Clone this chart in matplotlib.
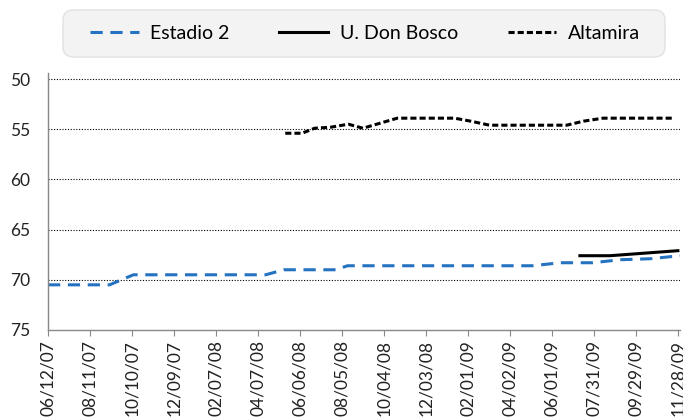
import pandas as pd
import matplotlib
matplotlib.use("Agg")
import matplotlib.pyplot as plt
from matplotlib.patches import FancyBboxPatch

plt.rcParams['font.family'] = ['Lato', 'DejaVu Sans']

# Estadio 2
estadio_dates = ['2007-06-12', '2007-09-08', '2007-10-12', '2008-04-18', '2008-05-14',
                 '2008-07-27', '2008-08-13', '2009-05-04', '2009-06-13', '2009-07-29',
                 '2009-09-07', '2009-10-20', '2009-12-01']
estadio_vals = [70.5, 70.5, 69.5, 69.5, 69.0, 69.0, 68.6, 68.6, 68.3, 68.3, 68.0, 67.9, 67.6]

# U. Don Bosco
bosco_dates = ['2009-07-11', '2009-08-23', '2009-11-28']
bosco_vals = [67.6, 67.6, 67.1]

# Altamira
altamira_dates = ['2008-05-16', '2008-06-09', '2008-06-27', '2008-07-20', '2008-08-14',
                  '2008-09-04', '2008-10-23', '2009-01-13', '2009-02-05', '2009-03-04',
                  '2009-06-22', '2009-07-16', '2009-08-13', '2009-11-20']
altamira_vals = [55.4, 55.4, 54.9, 54.8, 54.5, 54.9, 53.9, 53.9, 54.2, 54.6,
                 54.6, 54.2, 53.9, 53.9]

yticks = [50, 55, 60, 65, 70, 75]
xticks = pd.date_range('2007-06-12', periods=16, freq='60D')

W, H = 683, 418
fig = plt.figure(figsize=(W / 100, H / 100), dpi=100)
ax = fig.add_axes([48 / W, 1 - 330 / H, 632 / W, 257 / H])

ax.plot(pd.to_datetime(estadio_dates), estadio_vals, color='#2472c0', lw=2.2,
        dashes=(4, 2.5), label='Estadio 2')
ax.plot(pd.to_datetime(bosco_dates), bosco_vals, color='black', lw=2.2,
        label='U. Don Bosco')
ax.plot(pd.to_datetime(altamira_dates), altamira_vals, color='black', lw=2.2,
        dashes=(2, 1), label='Altamira')

ax.set_ylim(75, 49.4)
ax.set_yticks(yticks)
ax.set_yticklabels([str(v) for v in yticks], fontsize=12.5, color='#222222')
ax.tick_params(axis='y', length=0, pad=13)

ax.set_xlim(pd.Timestamp('2007-06-12'), pd.Timestamp('2009-12-01'))
ax.set_xticks(xticks)
ax.set_xticklabels([d.strftime('%m/%d/%y') for d in xticks], rotation=90,
                   fontsize=12.5, color='#222222')
ax.tick_params(axis='x', length=4, color='#888888', pad=3)

for v in yticks[:-1]:
    ax.axhline(v, color='black', lw=0.8, ls=(0, (1, 1.5)), zorder=0)

for side in ['top', 'right']:
    ax.spines[side].set_visible(False)
for side in ['left', 'bottom']:
    ax.spines[side].set_color('#888888')
    ax.spines[side].set_linewidth(1)

# rounded grey box behind the legend
box = FancyBboxPatch((63 / W, 1 - 57 / H), 602 / W, 47 / H,
                     boxstyle='round,pad=0,rounding_size=0.015',
                     transform=fig.transFigure, facecolor='#f3f3f3',
                     edgecolor='#e2e2e2', lw=1, mutation_aspect=W / H)
fig.patches.append(box)

fig.legend(loc='center', bbox_to_anchor=(90 / W, 1 - 57 / H, 550 / W, 47 / H),
           mode='expand', ncol=3, frameon=False, fontsize=14,
           handlelength=2.5, handletextpad=0.6, borderpad=0, borderaxespad=0)

fig.savefig('out.png', dpi=100)
